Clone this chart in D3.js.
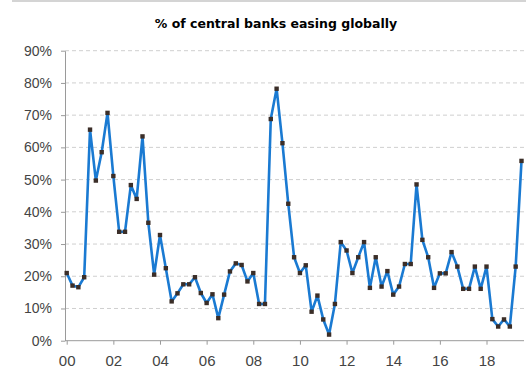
<!DOCTYPE html>
<html>
<head>
<meta charset="utf-8">
<script src="https://cdn.jsdelivr.net/npm/d3@7"></script>
<style>
  html, body { margin: 0; padding: 0; background: #fff; }
  svg { display: block; }
</style>
</head>
<body>
<div id="chart"></div>
<script>
// Quarterly share of central banks easing, 2000Q1 .. 2019Q3
const easingPct = [
  21.0, 17.1, 16.6, 19.7, 65.5, 49.7, 58.5, 70.7, 51.1, 33.8,
  33.8, 48.3, 44.0, 63.4, 36.6, 20.5, 32.8, 22.5, 12.2, 14.7,
  17.5, 17.5, 19.7, 14.8, 11.7, 14.4, 7.0, 14.3, 21.5, 24.0,
  23.5, 18.4, 21.0, 11.4, 11.4, 68.8, 78.2, 61.3, 42.5, 25.9,
  21.0, 23.4, 9.0, 14.0, 6.6, 1.9, 11.4, 30.6, 28.0, 21.0,
  25.9, 30.6, 16.4, 25.9, 16.8, 21.6, 14.3, 16.8, 23.8, 23.8,
  48.5, 31.3, 25.9, 16.4, 20.9, 20.9, 27.5, 23.0, 16.1, 16.1,
  23.0, 16.1, 23.0, 6.7, 4.4, 6.6, 4.4, 23.0, 55.8
];
const yTicks = [0, 10, 20, 30, 40, 50, 60, 70, 80, 90];
const xTickIdx = [0, 8, 16, 24, 32, 40, 48, 56, 64, 72];
const xTickLabels = ['00', '02', '04', '06', '08', '10', '12', '14', '16', '18'];
const title = '% of central banks easing globally';

const W = 526, H = 371;
const axisX = 65, plotRight = 524;

const x = d3.scaleLinear().domain([0, easingPct.length - 1]).range([66.7, 521.5]);
const y = d3.scaleLinear().domain([0, 90]).range([340.7, 50.7]);

const svg = d3.select('#chart').append('svg').attr('width', W).attr('height', H);

// faint frame edge at top of the screenshot
svg.append('rect').attr('x', 12).attr('y', 0).attr('width', W - 12).attr('height', 2).attr('fill', '#d4d4d4');

// Title
svg.append('text')
  .attr('x', 276).attr('y', 28)
  .attr('text-anchor', 'middle')
  .style('font-family', '"DejaVu Sans", sans-serif')
  .style('font-weight', 'bold')
  .style('font-size', '12.5px')
  .attr('fill', '#000')
  .text(title);

// Grid lines
svg.append('g')
  .selectAll('line')
  .data(yTicks.filter(d => d > 0))
  .join('line')
  .attr('x1', axisX).attr('x2', plotRight)
  .attr('y1', d => y(d)).attr('y2', d => y(d))
  .attr('stroke', '#cfcfcf').attr('stroke-width', 1)
  .attr('stroke-dasharray', '4,3');

// Y axis
svg.append('g')
  .attr('transform', `translate(${axisX},0)`)
  .call(d3.axisLeft(y).tickValues(yTicks).tickFormat(d => d + '%').tickSize(4).tickSizeOuter(0).tickPadding(9))
  .call(ax => ax.select('.domain').attr('stroke', '#9a9a9a'))
  .call(ax => ax.selectAll('.tick line').attr('stroke', '#9a9a9a'))
  .call(ax => ax.selectAll('text')
    .attr('fill', '#444')
    .style('font-family', '"Liberation Sans", Arial, sans-serif')
    .style('font-size', '14px'));

// X axis
svg.append('g')
  .attr('transform', `translate(0,${y(0)})`)
  .call(d3.axisBottom(x).tickValues(xTickIdx).tickFormat((d, i) => xTickLabels[i]).tickSize(4).tickSizeOuter(0).tickPadding(11))
  .call(ax => ax.select('.domain').attr('d', `M${axisX},0H${plotRight}`).attr('stroke', '#9a9a9a'))
  .call(ax => ax.selectAll('.tick line').attr('stroke', '#9a9a9a'))
  .call(ax => ax.selectAll('text')
    .attr('fill', '#444')
    .style('font-family', '"Liberation Sans", Arial, sans-serif')
    .style('font-size', '15px'));

// Line
const line = d3.line().x((d, i) => x(i)).y(d => y(d));
svg.append('path')
  .datum(easingPct)
  .attr('d', line)
  .attr('fill', 'none')
  .attr('stroke', '#1a7ad2')
  .attr('stroke-width', 2.6)
  .attr('stroke-linejoin', 'round');

// Markers
svg.append('g')
  .selectAll('rect')
  .data(easingPct)
  .join('rect')
  .attr('x', (d, i) => x(i) - 2.2)
  .attr('y', d => y(d) - 2.2)
  .attr('width', 4.4).attr('height', 4.4)
  .attr('fill', '#3b2e28');
</script>
</body>
</html>
